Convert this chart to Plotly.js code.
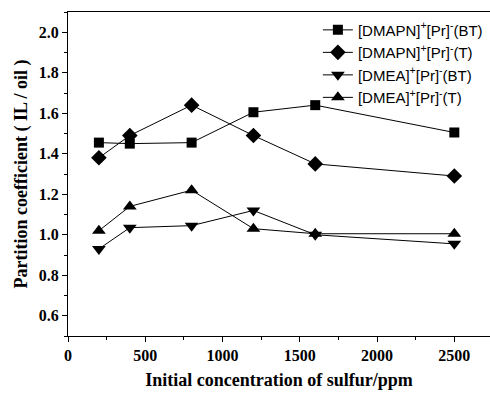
<!DOCTYPE html>
<html><head><meta charset="utf-8">
<script src="https://cdn.plot.ly/plotly-3.0.1.min.js"></script>
<style>body{margin:0;}#c{width:490px;height:394px;}</style>
</head><body><div id="c"></div>
<script>
const conc = [200, 400, 800, 1200, 1600, 2500];
const dmapnBT = [1.455, 1.45, 1.455, 1.605, 1.64, 1.505];
const dmapnT = [1.38, 1.49, 1.64, 1.49, 1.35, 1.29];
const dmeaBT = [0.93, 1.035, 1.045, 1.12, 1.0, 0.955];
const dmeaT = [1.02, 1.14, 1.22, 1.03, 1.005, 1.005];
const names = ['[DMAPN]<sup>+</sup>[Pr]<sup>-</sup>(BT)', '[DMAPN]<sup>+</sup>[Pr]<sup>-</sup>(T)', '[DMEA]<sup>+</sup>[Pr]<sup>-</sup>(BT)', '[DMEA]<sup>+</sup>[Pr]<sup>-</sup>(T)'];
const series = [dmapnBT, dmapnT, dmeaBT, dmeaT];
const symbols = ['square', 'diamond', 'triangle-down', 'triangle-up'];
const sizes = [10, 12, 12, 12];
const traces = series.map((s, i) => ({
  x: conc, y: s, name: names[i], type: 'scatter', mode: 'lines+markers',
  line: {color: '#000', width: 1},
  marker: {symbol: symbols[i], size: sizes[i], color: '#000'}
}));
const tickFont = {family: 'Liberation Serif, Times New Roman, serif', size: 16, color: '#000', weight: 'bold'};
const titleFont = {family: 'Liberation Serif, Times New Roman, serif', size: 18, color: '#000', weight: 'bold'};
const layout = {
  width: 490, height: 394,
  margin: {l: 68, r: 0, t: 12, b: 58},
  paper_bgcolor: '#fff', plot_bgcolor: '#fff',
  showlegend: true,
  legend: {x: 0.995, xanchor: 'right', y: 0.995, yanchor: 'top', bgcolor: 'rgba(0,0,0,0)',
    font: {family: 'Liberation Sans, Arial, sans-serif', size: 15, color: '#000'}, tracegroupgap: 0, itemwidth: 30},
  xaxis: {
    range: [0, 2731], tickvals: [0, 500, 1000, 1500, 2000, 2500],
    ticks: 'outside', ticklen: 5, tickwidth: 1, tickcolor: '#000',
    minor: {dtick: 250, tick0: 0, ticks: 'outside', ticklen: 3, tickcolor: '#000', showgrid: false},
    showline: true, linecolor: '#000', linewidth: 1, mirror: true, showgrid: false, zeroline: false,
    tickfont: tickFont,
    title: {text: 'Initial concentration of sulfur/ppm', font: titleFont, standoff: 10}
  },
  yaxis: {
    range: [0.5, 2.1], tickvals: [0.6, 0.8, 1.0, 1.2, 1.4, 1.6, 1.8, 2.0], ticktext: ['0.6','0.8','1.0','1.2','1.4','1.6','1.8','2.0'],
    ticks: 'outside', ticklen: 5, tickwidth: 1, tickcolor: '#000',
    minor: {dtick: 0.1, tick0: 0.5, ticks: 'outside', ticklen: 3, tickcolor: '#000', showgrid: false},
    showline: true, linecolor: '#000', linewidth: 1, mirror: true, showgrid: false, zeroline: false,
    tickfont: tickFont,
    title: {text: 'Partition coefficient ( IL / oil )', font: titleFont, standoff: 6}
  }
};
Plotly.newPlot('c', traces, layout, {displayModeBar: false});
</script></body></html>
